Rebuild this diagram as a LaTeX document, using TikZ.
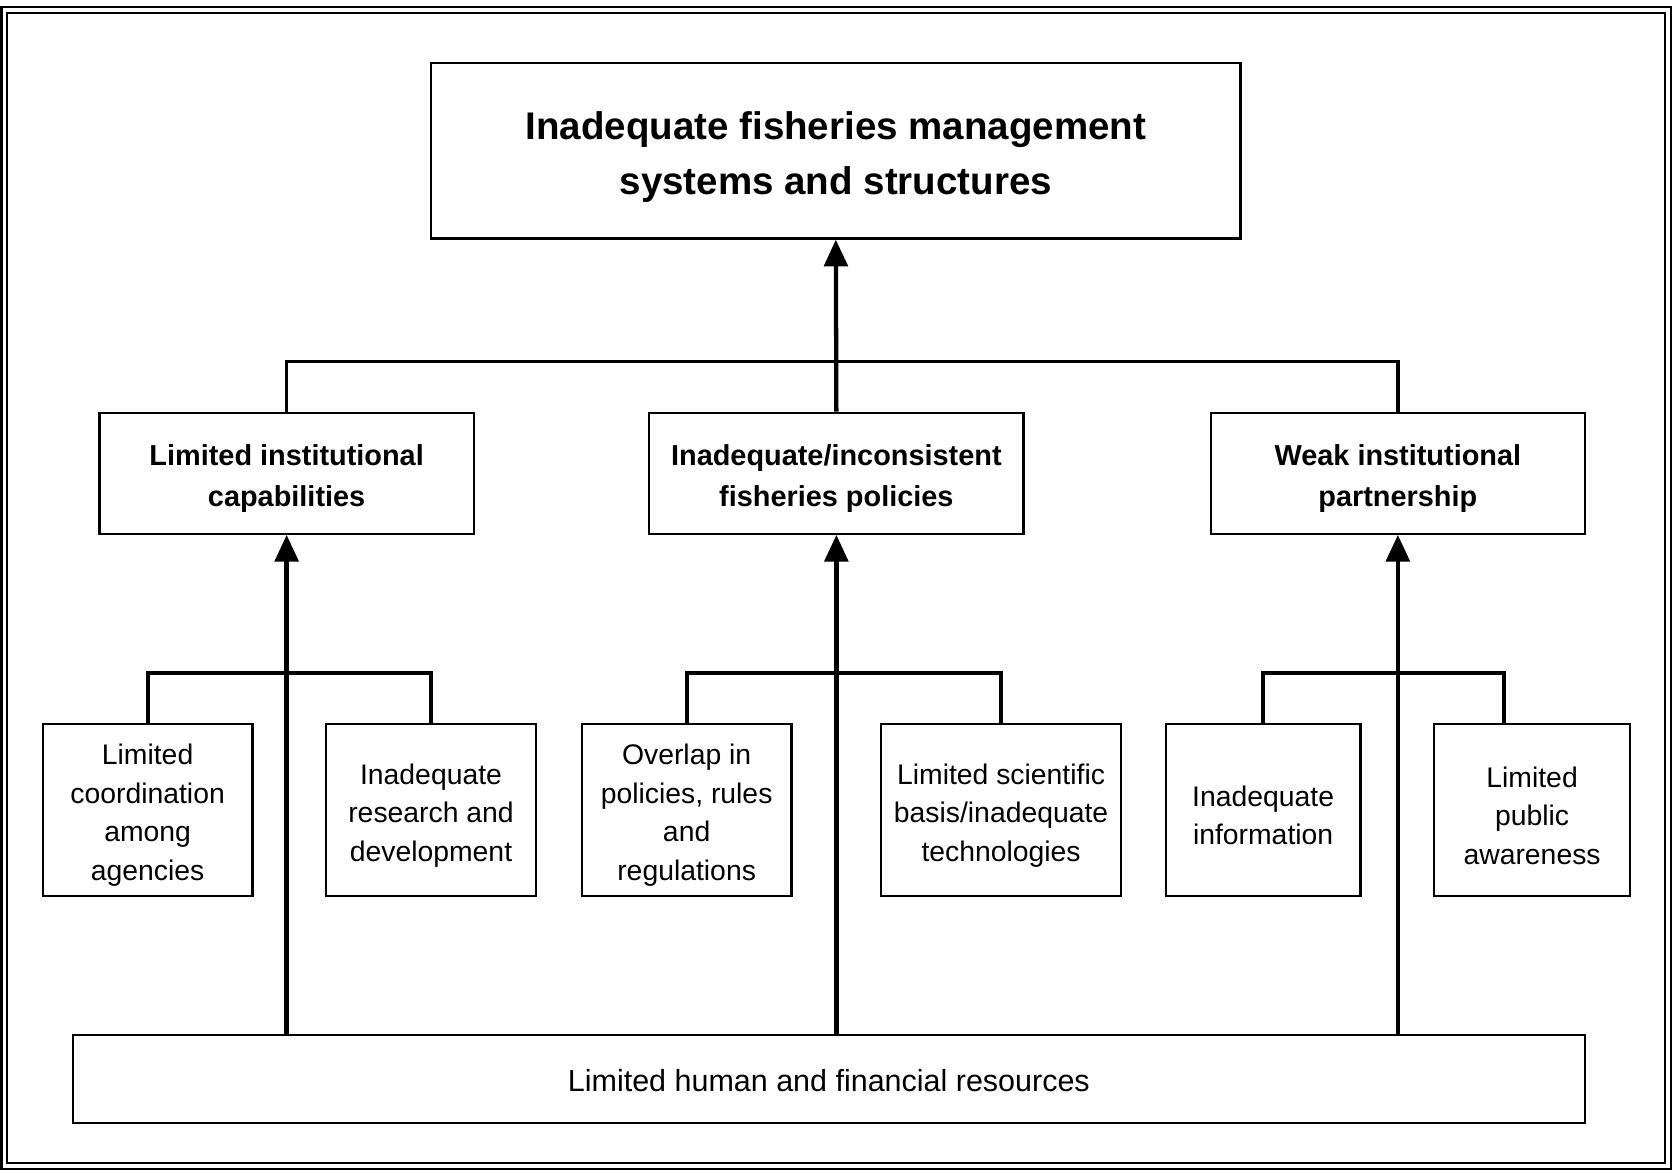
\documentclass[tikz,border=0pt]{standalone}
\usepackage{fontspec}
\setmainfont{Liberation Sans}
\usetikzlibrary{arrows.meta}
% taller first line, so the text block sits a little lower in its box
\newcommand\firstline[1]{\rule{0pt}{#1}}
\begin{document}
\begin{tikzpicture}[x=1pt,y=-1pt,
  box/.style={draw, line width=2.2pt, align=center, inner sep=0pt},
  titlebox/.style={box, minimum width=757pt, minimum height=164pt,
    font=\fontsize{36}{52}\selectfont\bfseries},
  midbox/.style={box, minimum width=350pt, minimum height=113pt,
    font=\fontsize{27}{38}\selectfont\bfseries},
  leafbox/.style={box, minimum height=161pt,
    font=\fontsize{26.5}{36}\selectfont},
  basebox/.style={box, minimum width=1414pt, minimum height=82pt,
    font=\fontsize{28.5}{36}\selectfont},
  link/.style={line width=3.6pt, line join=miter},
  toplink/.style={line width=3.2pt, line join=miter},
  arr/.style={line width=4pt, -{Triangle[width=22pt,length=25pt]}},
  frameline/.style={line width=2.2pt}
]
\useasboundingbox (0,0) rectangle (1568,1095);
% double outer frame
\draw[frameline] (1.5,6.5) rectangle (1562.5,1093);
\draw[frameline] (6.5,12) rectangle (1557,1087.5);

% top problem
\node[titlebox] (top) at (781.5,141) {\firstline{38pt}Inadequate fisheries management\\systems and structures};

% main causes
\node[midbox] (m1) at (268,442.5) {\firstline{30pt}Limited institutional\\capabilities};
\node[midbox] (m2) at (782,442.5) {\firstline{30pt}Inadequate/inconsistent\\fisheries policies};
\node[midbox] (m3) at (1307,442.5) {\firstline{30pt}Weak institutional\\partnership};

% contributing causes
\node[leafbox, minimum width=196pt] (b1) at (138,757.5) {\firstline{29pt}Limited\\coordination\\among\\agencies};
\node[leafbox, minimum width=196pt] (b2) at (403,757.5) {\firstline{29pt}Inadequate\\research and\\development};
\node[leafbox, minimum width=196pt] (b3) at (642,757.5) {\firstline{29pt}Overlap in\\policies, rules\\and\\regulations};
\node[leafbox, minimum width=224pt] (b4) at (936,757.5) {\firstline{29pt}Limited scientific\\basis/inadequate\\technologies};
\node[leafbox, minimum width=182pt] (b5) at (1181,757.5) {\firstline{29pt}Inadequate\\information};
\node[leafbox, minimum width=183pt] (b6) at (1432.5,757.5) {\firstline{29pt}Limited\\public\\awareness};

% root cause
\node[basebox] (base) at (775,1009) {\firstline{23pt}Limited human and financial resources};

% junction levels
\coordinate (jt) at (0,338);
\coordinate (jb) at (0,629);

% main causes feed the top problem
\draw[toplink] (m1.north) -- (m1.north |- jt) -- (m3.north |- jt) -- (m3.north);
\draw[arr] (m2.north) -- (top.south);

% contributing causes brackets
\draw[link] (b1.north) -- (b1.north |- jb) -- (b2.north |- jb) -- (b2.north);
\draw[link] (b3.north) -- (b3.north |- jb) -- (b4.north |- jb) -- (b4.north);
\draw[link] (b5.north) -- (b5.north |- jb) -- ([xshift=-26pt]b6.north |- jb) -- ([xshift=-26pt]b6.north);

% root cause arrows
\draw[arr] (base.north -| m1.south) -- (m1.south);
\draw[arr] (base.north -| m2.south) -- (m2.south);
\draw[arr] (base.north -| m3.south) -- (m3.south);
\end{tikzpicture}
\end{document}
